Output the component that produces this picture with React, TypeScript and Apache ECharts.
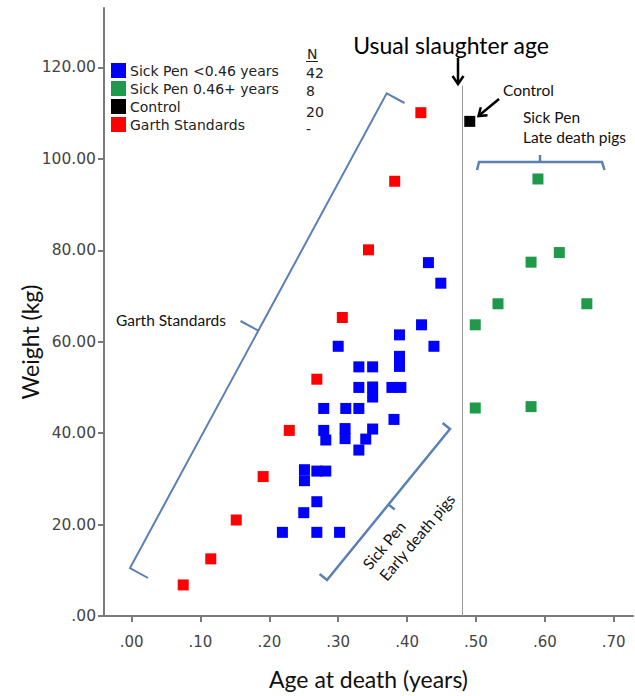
import React, { useEffect, useRef } from "react";
import * as echarts from "echarts";

// ---- data (age in years, weight in kg) ----
const earlyAge = [0.431, 0.449, 0.421, 0.439, 0.389, 0.300, 0.389, 0.389, 0.330, 0.350, 0.330, 0.350, 0.350, 0.378, 0.391, 0.279, 0.311, 0.330, 0.381, 0.279, 0.282, 0.310, 0.310, 0.350, 0.340, 0.330, 0.251, 0.251, 0.269, 0.282, 0.269, 0.250, 0.219, 0.269, 0.302];
const earlyWeight = [77.3, 72.8, 63.7, 59.0, 61.5, 59.0, 56.8, 54.6, 54.5, 54.5, 50.0, 50.1, 47.9, 50.0, 50.0, 45.4, 45.4, 45.4, 43.0, 40.6, 38.5, 41.0, 38.8, 40.9, 38.7, 36.3, 32.0, 29.6, 31.7, 31.7, 25.0, 22.6, 18.3, 18.3, 18.3];

const lateAge = [0.590, 0.621, 0.580, 0.532, 0.661, 0.499, 0.499, 0.580];
const lateWeight = [95.6, 79.5, 77.4, 68.3, 68.3, 63.7, 45.5, 45.8];

const controlAge = [0.491];
const controlWeight = [108.2];

const garthAge = [0.075, 0.115, 0.152, 0.191, 0.229, 0.269, 0.306, 0.344, 0.382, 0.420];
const garthWeight = [6.8, 12.5, 21.0, 30.5, 40.6, 51.8, 65.3, 80.1, 95.1, 110.1];

const xTicks = [0, 0.1, 0.2, 0.3, 0.4, 0.5, 0.6, 0.7];
const yTicks = [0, 20, 40, 60, 80, 100, 120];

const seriesNames = ["Sick Pen <0.46 years", "Sick Pen 0.46+ years", "Control", "Garth Standards"];
const seriesN = ["42", "8", "20", "-"];

const slaughterAge = 0.48;
const slaughterLineTop = 116;

const zip = (a: number[], b: number[]) => a.map((v, i) => [v, b[i]]);
const fmt = (v: number) => {
  const s = v.toFixed(2);
  return s.startsWith("0") ? s.slice(1) : s;
};

export default function App() {
  const ref = useRef<HTMLDivElement>(null);
  useEffect(() => {
    if (!ref.current) return;
    const chart = echarts.init(ref.current, null, { renderer: "svg" });
    const bracket = "#5a80b4";
    const annFont = "Lato";
    const annSize = 15.5;
    const deg = Math.PI / 180;
    const mk = (name: string, color: string, data: number[][], extra: any = {}) => ({
      name,
      type: "scatter",
      symbol: "rect",
      symbolSize: 11,
      itemStyle: { color, opacity: 1 },
      emphasis: { disabled: true },
      data,
      ...extra,
    });
    const option: any = {
      animation: false,
      backgroundColor: "#ffffff",
      grid: { left: 104, right: 2, top: 8, bottom: 80, containLabel: false },
      legend: {
        data: seriesNames,
        orient: "vertical",
        left: 111,
        top: 63,
        icon: "rect",
        itemWidth: 15,
        itemHeight: 15,
        itemGap: 3,
        padding: 0,
        selectedMode: false,
        itemStyle: { opacity: 1 },
        textStyle: { fontFamily: "DejaVu Sans", fontSize: 14, color: "#222", padding: [0, 0, 0, -1] },
      },
      xAxis: {
        type: "value",
        min: -0.04,
        max: 0.728,
        splitLine: { show: false },
        axisLine: { show: true, onZero: false, lineStyle: { color: "#7a7a7a", width: 2 } },
        axisTick: { show: true, customValues: xTicks, length: 6, lineStyle: { color: "#7a7a7a", width: 2 } },
        axisLabel: { customValues: xTicks, formatter: fmt, color: "#444", fontFamily: "DejaVu Sans", fontSize: 15, margin: 18 },
        name: "Age at death (years)",
        nameLocation: "middle",
        nameGap: 51,
        nameTextStyle: { fontFamily: annFont, fontSize: 23, color: "#111" },
      },
      yAxis: {
        type: "value",
        min: 0,
        max: 133,
        splitLine: { show: false },
        axisLine: { show: true, onZero: false, lineStyle: { color: "#7a7a7a", width: 2 } },
        axisTick: { show: true, customValues: yTicks, length: 6, lineStyle: { color: "#7a7a7a", width: 2 } },
        axisLabel: { customValues: yTicks, formatter: fmt, color: "#444", fontFamily: "DejaVu Sans", fontSize: 15.5, margin: 8 },
      },
      series: [
        mk(seriesNames[0], "#0000ff", zip(earlyAge, earlyWeight), {
          markLine: {
            silent: true,
            symbol: ["none", "none"],
            label: { show: false },
            emphasis: { disabled: true },
            lineStyle: { color: "#9a9a9a", width: 1, type: "solid" },
            data: [[{ coord: [slaughterAge, slaughterLineTop] }, { coord: [slaughterAge, 0] }]],
          },
        }),
        mk(seriesNames[1], "#1e9a4a", zip(lateAge, lateWeight)),
        mk(seriesNames[2], "#000000", zip(controlAge, controlWeight)),
        mk(seriesNames[3], "#ff0000", zip(garthAge, garthWeight)),
      ],
      graphic: [
        // y axis title
        {
          type: "text",
          x: 30,
          y: 342,
          rotation: 90 * deg,
          style: { text: "Weight (kg)", fontFamily: annFont, fontSize: 23, fill: "#111", align: "center", verticalAlign: "middle" },
        },
        // N column
        { type: "text", x: 307, y: 54, style: { text: "N", fontFamily: "DejaVu Sans", fontSize: 14, fill: "#222", align: "left", verticalAlign: "middle" } },
        { type: "line", shape: { x1: 306, y1: 61.5, x2: 318, y2: 61.5 }, style: { stroke: "#222", lineWidth: 1 } },
        ...seriesN.map((t, i) => ({
          type: "text",
          x: 306,
          y: [72.5, 91, 111.5, 129][i],
          style: { text: t, fontFamily: "DejaVu Sans", fontSize: 14, fill: "#222", align: "left", verticalAlign: "middle" },
        })),
        // Usual slaughter age
        {
          type: "text",
          x: 451,
          y: 45,
          style: { text: "Usual slaughter age", fontFamily: annFont, fontSize: 23, fill: "#000", align: "center", verticalAlign: "middle" },
        },
        { type: "line", shape: { x1: 458, y1: 58, x2: 458, y2: 83 }, style: { stroke: "#000", lineWidth: 2.5 } },
        { type: "polyline", shape: { points: [[452.5, 76], [458, 84], [463.5, 76]] }, style: { stroke: "#000", lineWidth: 2.5, fill: "none" } },
        // Control label and arrow
        { type: "text", x: 503, y: 90, style: { text: "Control", fontFamily: annFont, fontSize: annSize, fill: "#111", align: "left", verticalAlign: "middle" } },
        { type: "line", shape: { x1: 499, y1: 99, x2: 479, y2: 115.5 }, style: { stroke: "#000", lineWidth: 2.5 } },
        { type: "polyline", shape: { points: [[487.5, 115.2], [478.5, 116], [480.8, 107.2]] }, style: { stroke: "#000", lineWidth: 2.5, fill: "none" } },
        // Late death bracket
        { type: "text", x: 523, y: 117, style: { text: "Sick Pen", fontFamily: annFont, fontSize: annSize, fill: "#111", align: "left", verticalAlign: "middle" } },
        { type: "text", x: 523, y: 137, style: { text: "Late death pigs", fontFamily: annFont, fontSize: annSize, fill: "#111", align: "left", verticalAlign: "middle" } },
        { type: "polyline", shape: { points: [[477, 170], [479, 162], [602, 162], [604.5, 170]] }, style: { stroke: bracket, lineWidth: 2.5, fill: "none" } },
        { type: "line", shape: { x1: 540, y1: 162, x2: 540, y2: 155 }, style: { stroke: bracket, lineWidth: 2.5 } },
        // Garth Standards bracket
        { type: "polyline", shape: { points: [[148, 578], [130, 568], [386.7, 93.3], [404.5, 103]] }, style: { stroke: bracket, lineWidth: 2, fill: "none" } },
        { type: "line", shape: { x1: 258.3, y1: 330.7, x2: 240.5, y2: 321 }, style: { stroke: bracket, lineWidth: 2 } },
        { type: "text", x: 116, y: 320, style: { text: "Garth Standards", fontFamily: annFont, fontSize: annSize, fill: "#111", align: "left", verticalAlign: "middle" } },
        // Early death bracket
        { type: "polyline", shape: { points: [[319.6, 574], [327, 580], [450, 429], [442.6, 423]] }, style: { stroke: bracket, lineWidth: 2.5, fill: "none" } },
        { type: "line", shape: { x1: 388.5, y1: 504.5, x2: 394.7, y2: 509.5 }, style: { stroke: bracket, lineWidth: 2.5 } },
        {
          type: "text",
          x: 384,
          y: 545,
          rotation: 50 * deg,
          style: { text: "Sick Pen", fontFamily: annFont, fontSize: annSize, fill: "#111", align: "center", verticalAlign: "middle" },
        },
        {
          type: "text",
          x: 417,
          y: 537,
          rotation: 50 * deg,
          style: { text: "Early death pigs", fontFamily: annFont, fontSize: annSize, fill: "#111", align: "center", verticalAlign: "middle" },
        },
      ],
    };
    chart.setOption(option);
    return () => chart.dispose();
  }, []);
  return <div ref={ref} style={{ position: "fixed", left: 0, top: 0, width: 635, height: 696 }} />;
}
